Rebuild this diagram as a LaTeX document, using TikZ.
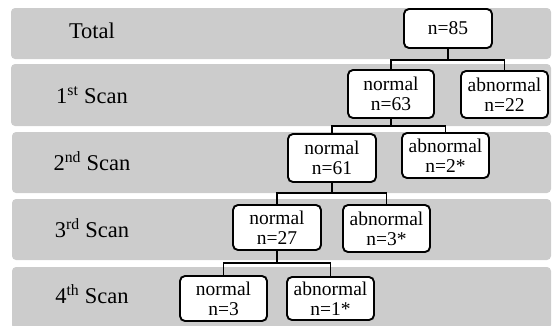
\documentclass[tikz,border=0pt]{standalone}
\usepackage{fontspec}
\setmainfont{Liberation Serif}
\definecolor{bandgray}{HTML}{CCCCCC}
\tikzset{
  band/.style={fill=bandgray, draw=none, rounded corners=4pt},
  rowlabel/.style={font=\fontsize{22.5}{25}\selectfont, anchor=center},
  box/.style={draw=black, line width=1.9pt, rounded corners=5pt, fill=white, align=center,
    inner sep=0pt, font=\fontsize{19.5}{20}\selectfont},
  conn/.style={draw=black, line width=1.9pt}
}
\begin{document}
\begin{tikzpicture}[x=1pt,y=-1pt]
\useasboundingbox (0,0) rectangle (553,325);
% bands
\fill[band] (11,8) rectangle (551,59);
\fill[band] (11,64) rectangle (551,126);
\fill[band] (12,132) rectangle (551,193);
\fill[band] (12,199) rectangle (551,260);
\fill[band] (12,267) rectangle (551,329);
% row labels
\node[rowlabel] (l0) at (92,31) {Total};
\node[rowlabel] (l1) at (92,95) {1\textsuperscript{st} Scan};
\node[rowlabel] (l2) at (92,161) {2\textsuperscript{nd} Scan};
\node[rowlabel] (l3) at (92,228) {3\textsuperscript{rd} Scan};
\node[rowlabel] (l4) at (92,294) {4\textsuperscript{th} Scan};
% boxes
\node[box, minimum width=88pt, minimum height=39pt] (t) at (448,28.5) {n=85};
\node[box, minimum width=86pt, minimum height=48pt] (n1) at (391,94) {normal\\n=63};
\node[box, minimum width=87pt, minimum height=47pt] (a1) at (504.5,94.5) {abnormal\\n=22};
\node[box, minimum width=88pt, minimum height=48pt] (n2) at (332,158) {normal\\n=61};
\node[box, minimum width=87pt, minimum height=45pt] (a2) at (445.5,155.5) {abnormal\\n=2*};
\node[box, minimum width=88pt, minimum height=45pt] (n3) at (277,227.5) {normal\\n=27};
\node[box, minimum width=87pt, minimum height=47pt] (a3) at (386.5,228.5) {abnormal\\n=3*};
\node[box, minimum width=87pt, minimum height=45pt] (n4) at (223.5,298.5) {normal\\n=3};
\node[box, minimum width=87pt, minimum height=43pt] (a4) at (330.5,298.5) {abnormal\\n=1*};
% junctions
\coordinate (j1) at (t.south |- 0,60);
\coordinate (j2) at (n1.south |- 0,126);
\coordinate (j3) at (n2.south |- 0,193);
\coordinate (j4) at (n3.south |- 0,263);
% connectors
\draw[conn] (t.south) -- (j1);
\draw[conn] (n1.north) |- (j1) -| (a1.north);
\draw[conn] (n1.south) -- (j2);
\draw[conn] (n2.north) |- (j2) -| (a2.north);
\draw[conn] (n2.south) -- (j3);
\draw[conn] (n3.north) |- (j3) -| (a3.north);
\draw[conn] (n3.south) -- (j4);
\draw[conn] (n4.north) |- (j4) -| (a4.north);
\end{tikzpicture}
\end{document}
